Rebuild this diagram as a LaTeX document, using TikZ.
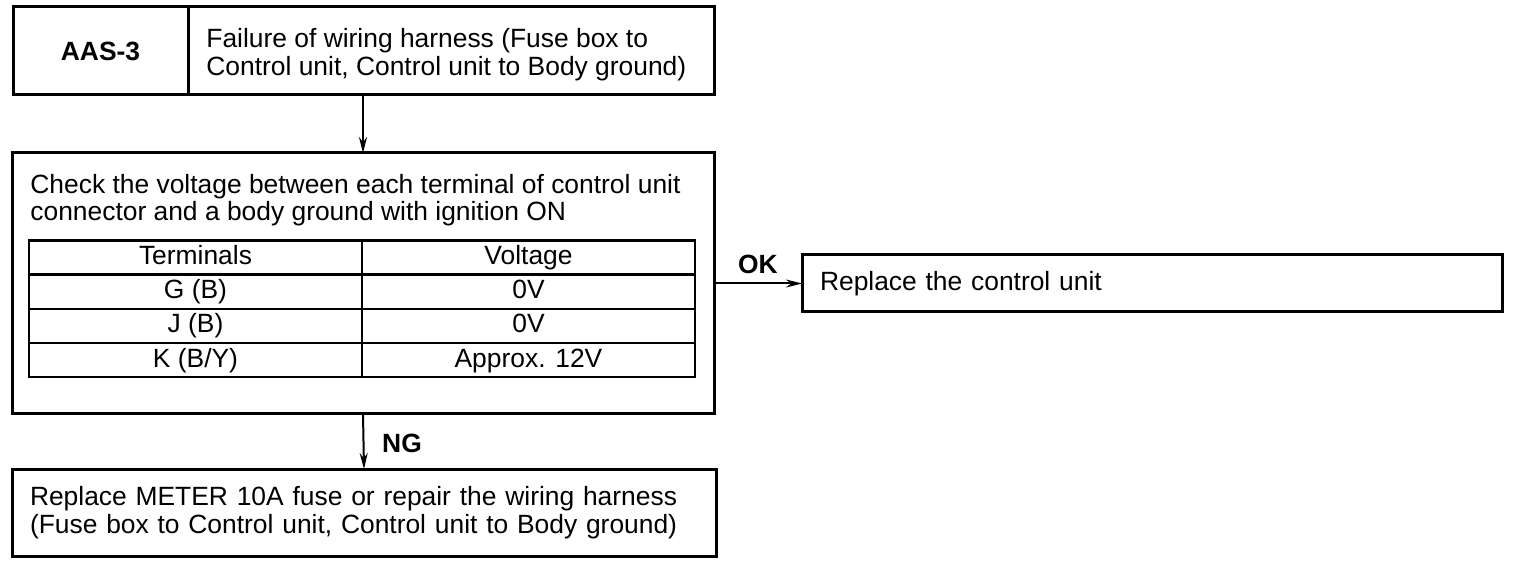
\documentclass[tikz,border=0pt]{standalone}
\usepackage{fontspec}
\setmainfont{Liberation Sans}
\usetikzlibrary{arrows.meta,positioning}
\newcommand{\flowfont}{\fontsize{13.2}{14}\selectfont}
\tikzset{
  flowbox/.style={
    rectangle, draw=black, line width=1.5pt,
    font=\flowfont, align=left,
    inner xsep=9pt, inner ysep=0pt, outer sep=0pt
  },
  idbox/.style={
    rectangle, draw=black, line width=1.5pt,
    font=\flowfont\bfseries, align=center,
    inner sep=0pt, outer sep=0pt
  },
  textblock/.style={
    font=\flowfont, align=left, anchor=north west, inner sep=0pt
  },
  cellbox/.style={
    rectangle, draw=black, line width=1.2pt,
    minimum width=166.5pt, minimum height=17.1pt,
    text height=9.5pt, text depth=2.5pt,
    font=\flowfont, inner sep=0pt, outer sep=0pt
  },
  flowarrow/.style={
    -{Stealth[length=8pt, width=4pt]}, line width=1pt
  },
  branchlabel/.style={
    font=\flowfont\bfseries, inner sep=0pt
  },
}

\begin{document}
\begin{tikzpicture}[x=0.5pt, y=-0.5pt]
\useasboundingbox (0,0) rectangle (1520,566);

% Header row
\node[idbox, minimum width=87.5pt, minimum height=44pt] (aas) at (100.5,51) {AAS-3};
\node[flowbox, minimum width=263pt, minimum height=44pt] (fail) at (451,51) {};
\node[textblock] (failtxt) at (206,28)
  {Failure of wiring harness (Fuse box to\\Control unit, Control unit to Body ground)};

% Check with table
\node[flowbox, minimum width=351pt, minimum height=130.5pt] (check) at (363,283.5) {};
\node[textblock] (checktxt) at (30,174)
  {Check the voltage between each terminal of control unit\\[-0.5pt]connector and a body ground with ignition ON};

\node[cellbox] (th1) at (195.5,257.5) {Terminals};
\node[cellbox] (th2) at (528.5,257.5) {Voltage};
\node[cellbox] (g1) at (195.5,291.7) {G (B)};
\node[cellbox] (g2) at (528.5,291.7) {0V};
\node[cellbox] (j1) at (195.5,325.9) {J (B)};
\node[cellbox] (j2) at (528.5,325.9) {0V};
\node[cellbox] (k1) at (195.5,360.1) {K (B/Y)};
\node[cellbox] (k2) at (528.5,360.1) {Approx. 12V};

% Results
\node[flowbox, minimum width=350pt, minimum height=28.5pt, text width=332pt] (replunit) at (1152,283.5)
  {Replace the control unit};
\node[flowbox, minimum width=352pt, minimum height=43.5pt, text width=334pt] (repair) at (364,512.5)
  {Replace METER 10A fuse or repair the wiring harness\\(Fuse box to Control unit, Control unit to Body ground)};

% Flow arrows
\draw[flowarrow] (check.north |- fail.south) -- (check.north);
\draw[flowarrow] (check.east) -- (replunit.west);
\draw[flowarrow] (check.south) -- (repair.north);

\node[branchlabel] (oklbl) at (758,264) {OK};
\node[branchlabel] (nglbl) at (402,443) {NG};

\end{tikzpicture}
\end{document}
